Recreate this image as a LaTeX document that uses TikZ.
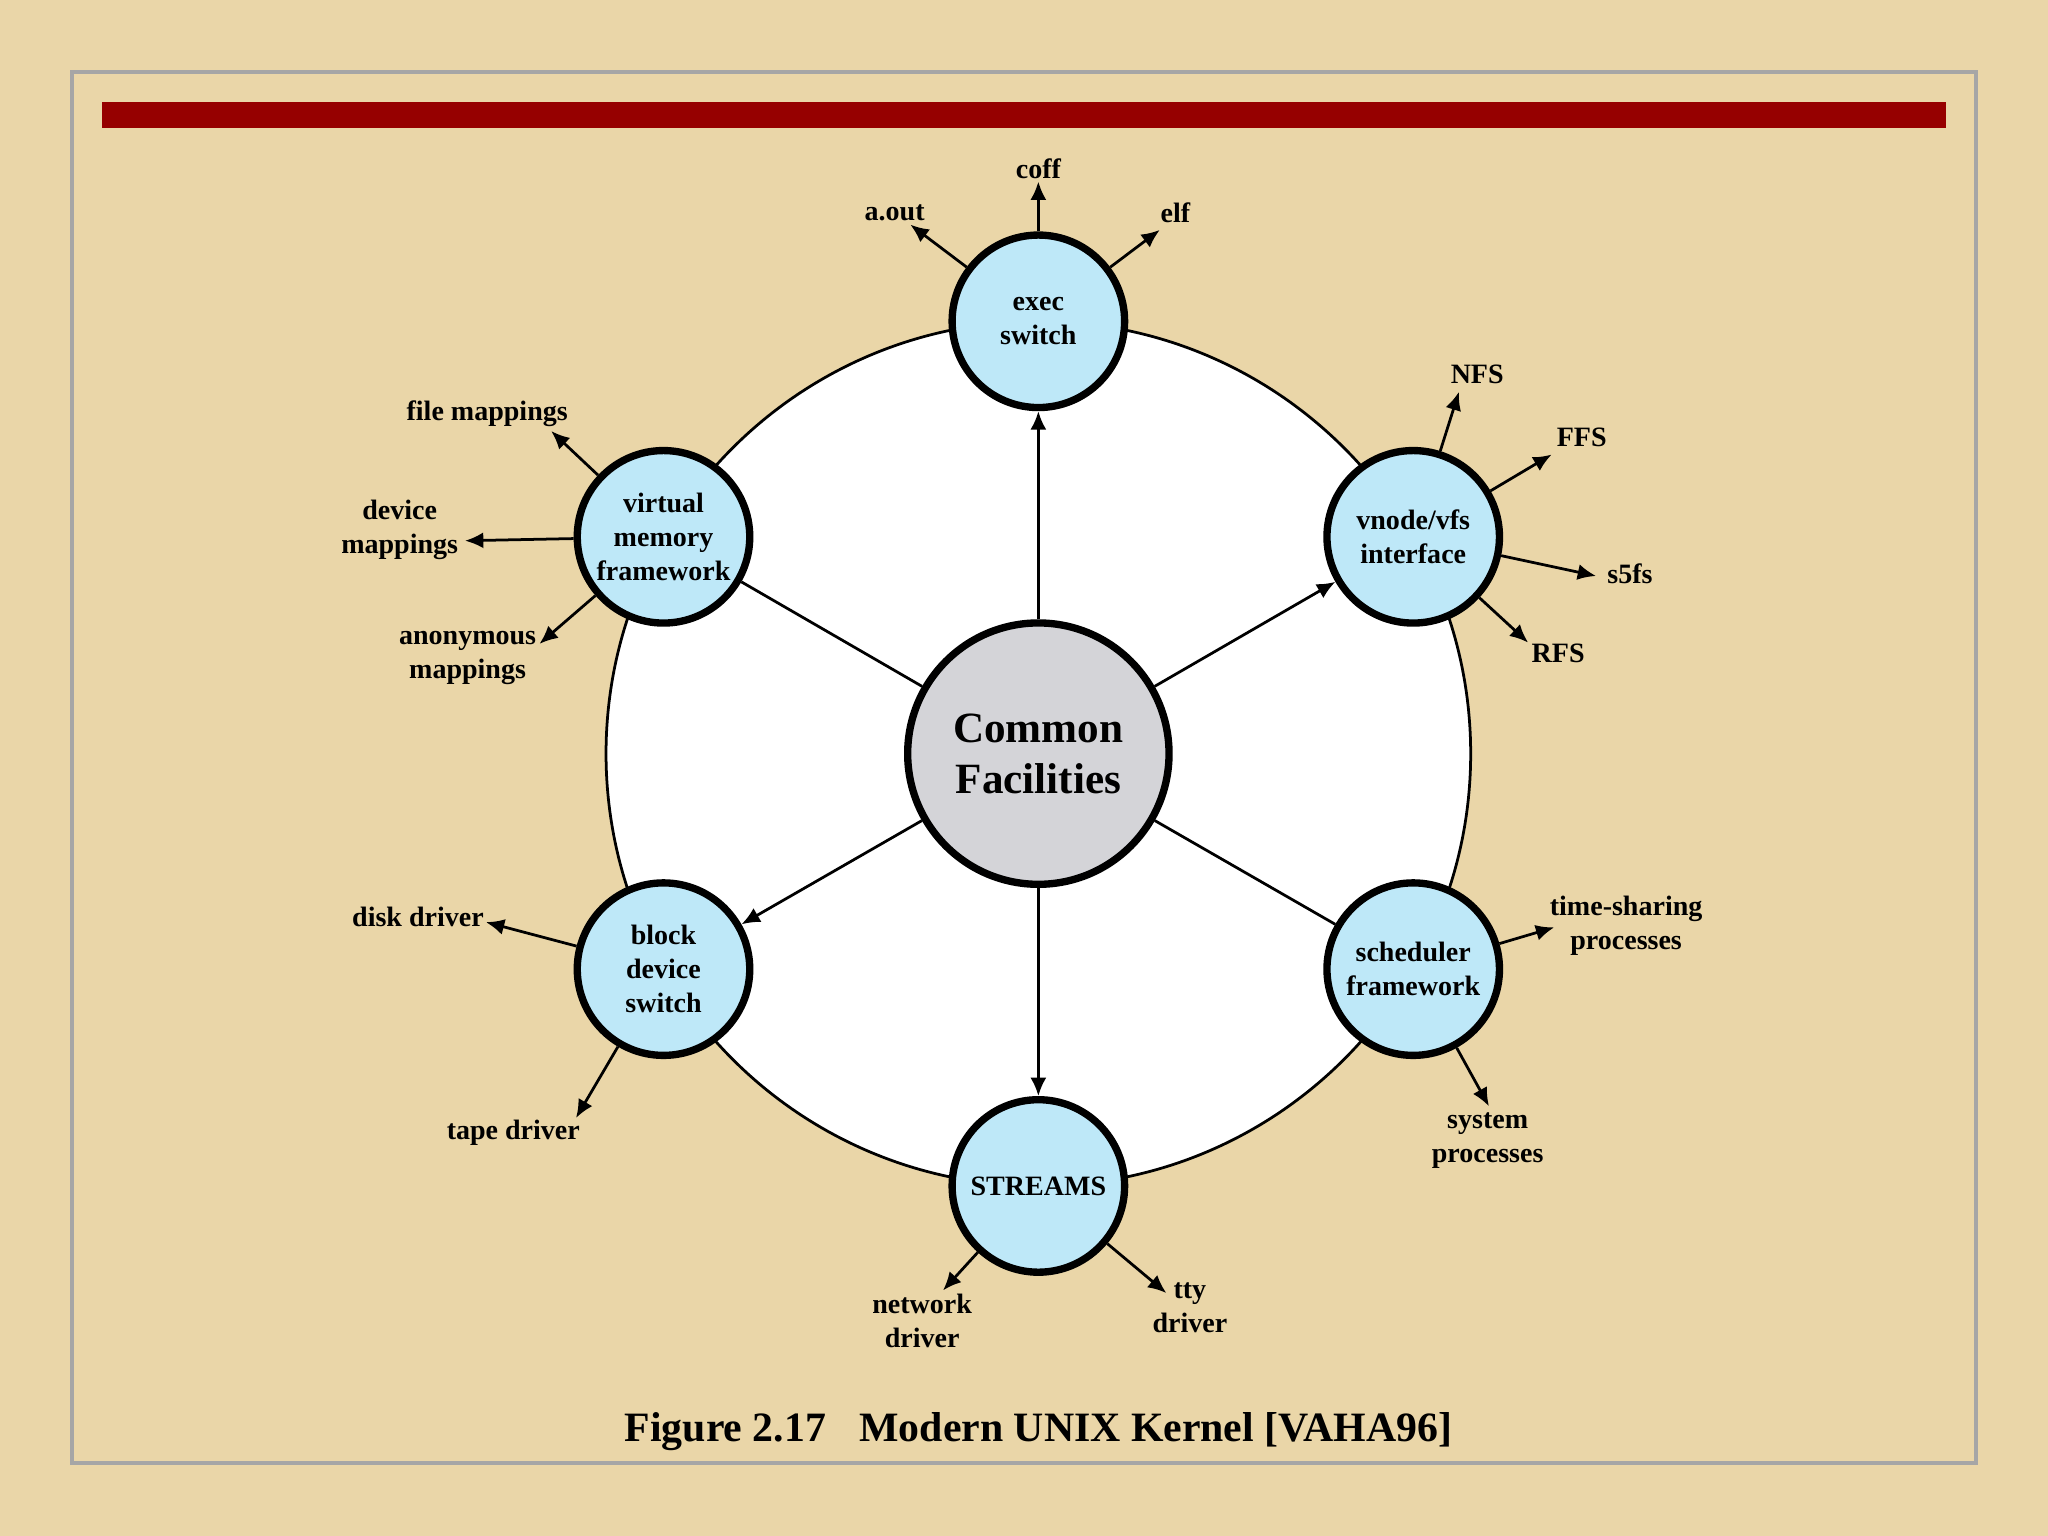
\documentclass[tikz,border=0pt]{standalone}
\usepackage{fontspec}
\setmainfont{Liberation Serif}
\usetikzlibrary{arrows.meta}
\definecolor{parch}{RGB}{234,214,168}
\definecolor{barred}{RGB}{150,0,0}
\definecolor{sat}{RGB}{190,232,248}
\definecolor{ctr}{RGB}{212,212,216}
\tikzset{
  satnode/.style={circle,draw=black,line width=1.6pt,fill=sat,minimum size=1.32cm,inner sep=0pt,align=center,font=\fontsize{6.1}{7.4}\selectfont\bfseries},
  lbl/.style={align=center,font=\fontsize{6.1}{7.4}\selectfont\bfseries},
  arr/.style={-{Latex[length=4pt,width=3.5pt]},line width=0.6pt},
  spoke/.style={line width=0.6pt}
}
\begin{document}
\begin{tikzpicture}[x=0.01cm,y=-0.01cm]
\fill[parch] (0,0) rectangle (1568,1176);
\useasboundingbox (0,0) rectangle (1568,1176);
\draw[gray!70,line width=0.8pt] (55,55) rectangle (1513,1120);
\fill[barred] (78,78) rectangle (1490,98);
\draw[fill=white,line width=0.6pt] (795,577) circle (331);
\node[circle,draw=black,line width=1.6pt,fill=ctr,minimum size=2cm,inner sep=0pt,align=center,font=\fontsize{9.4}{11.1}\selectfont\bfseries] (c) at (795,577) {Common\\Facilities};
\node[satnode] (ex) at (795,246) {exec\\switch};
\node[satnode] (vn) at (1082,411) {vnode/vfs\\interface};
\node[satnode] (sc) at (1082,742) {scheduler\\framework};
\node[satnode] (st) at (795,908) {STREAMS};
\node[satnode] (bl) at (508,742) {block\\device\\switch};
\node[satnode] (vm) at (508,411) {virtual\\memory\\framework};
\draw[arr] (c) -- (ex);
\draw[arr] (c) -- (vn);
\draw[spoke] (c) -- (sc);
\draw[arr] (c) -- (st);
\draw[arr] (c) -- (bl);
\draw[spoke] (c) -- (vm);
% exec
\coordinate (a1) at (697,172); \node[lbl] at (685,163) {a.out};
\coordinate (a2) at (795,139); \node[lbl] at (795,129) {coff};
\coordinate (a3) at (888,176); \node[lbl] at (900,163) {elf};
\draw[arr] (ex) -- (a1); \draw[arr] (ex) -- (a2); \draw[arr] (ex) -- (a3);
% vnode
\coordinate (b1) at (1117,300); \node[lbl] at (1131,287) {NFS};
\coordinate (b2) at (1188,348); \node[lbl] at (1211,335) {FFS};
\coordinate (b3) at (1222,441); \node[lbl] at (1248,439) {s5fs};
\coordinate (b4) at (1170,492); \node[lbl] at (1193,500) {RFS};
\draw[arr] (vn) -- (b1); \draw[arr] (vn) -- (b2); \draw[arr] (vn) -- (b3); \draw[arr] (vn) -- (b4);
% scheduler
\coordinate (s1) at (1190,710); \node[lbl] at (1245,709) {time-sharing\\processes};
\coordinate (s2) at (1140,847); \node[lbl] at (1139,873) {system\\processes};
\draw[arr] (sc) -- (s1); \draw[arr] (sc) -- (s2);
% streams
\coordinate (t1) at (722,988); \node[lbl] at (706,1011) {network\\driver};
\coordinate (t2) at (893,990); \node[lbl] at (911,1001) {tty\\driver};
\draw[arr] (st) -- (t1); \draw[arr] (st) -- (t2);
% block
\coordinate (k1) at (372,706); \node[lbl] at (320,702) {disk driver};
\coordinate (k2) at (441,856); \node[lbl] at (393,867) {tape driver};
\draw[arr] (bl) -- (k1); \draw[arr] (bl) -- (k2);
% vm
\coordinate (v1) at (422,330); \node[lbl] at (373,317) {file mappings};
\coordinate (v2) at (356,414); \node[lbl] at (306,406) {device\\mappings};
\coordinate (v3) at (413,493); \node[lbl] at (358,504) {anonymous\\mappings};
\draw[arr] (vm) -- (v1); \draw[arr] (vm) -- (v2); \draw[arr] (vm) -- (v3);
\node[font=\fontsize{9.1}{11}\selectfont\bfseries] (cap) at (795,1096) {Figure 2.17\hspace{0.8em}Modern UNIX Kernel [VAHA96]};
\end{tikzpicture}
\end{document}
